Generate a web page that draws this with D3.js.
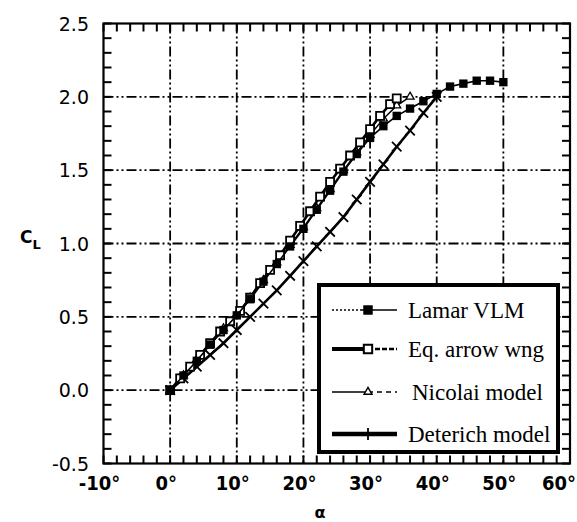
<!DOCTYPE html>
<html>
<head>
<meta charset="utf-8">
<script src="https://cdn.jsdelivr.net/npm/d3@7/dist/d3.min.js"></script>
<style>
  html, body { margin: 0; padding: 0; background: #fff; }
  svg { display: block; }
</style>
</head>
<body>
<svg id="chart" width="577" height="522"></svg>
<script>
// ---- data ----
const xTicks = [-10, 0, 10, 20, 30, 40, 50, 60];
const xTickLabels = ["-10°", "0°", "10°", "20°", "30°", "40°", "50°", "60°"];
const yTicks = [-0.5, 0.0, 0.5, 1.0, 1.5, 2.0, 2.5];
const yTickLabels = ["-0.5", "0.0", "0.5", "1.0", "1.5", "2.0", "2.5"];

const lamarAlpha = [0,2,4,6,8,10,12,14,16,18,20,22,24,26,28,30,32,34,36,38,40,42,44,46,48,50];
const lamarCL    = [0,0.10,0.20,0.31,0.41,0.51,0.62,0.74,0.86,0.98,1.10,1.23,1.36,1.49,1.61,1.72,1.80,1.87,1.92,1.97,2.02,2.07,2.09,2.11,2.11,2.10];

const eqAlpha = [0,1.5,3,4.5,6,7.5,9,10.5,12,13.5,15,16.5,18,19.5,21,22.5,24,25.5,27,28.5,30,31.5,33,34];
const eqCL    = [0,0.08,0.16,0.24,0.32,0.40,0.47,0.54,0.63,0.73,0.82,0.92,1.02,1.12,1.22,1.32,1.42,1.51,1.60,1.69,1.78,1.87,1.95,1.99];

const nicolaiAlpha = [0,2,4,6,8,10,12,14,16,18,20,22,24,26,28,30,32,34,36];
const nicolaiCL    = [0,0.10,0.21,0.31,0.42,0.52,0.63,0.75,0.87,0.99,1.11,1.24,1.37,1.50,1.62,1.74,1.85,1.94,2.00];

const deterichAlpha = [0,2,4,6,8,10,12,14,16,18,20,22,24,26,28,30,32,34,36,38,40];
const deterichCL    = [0,0.08,0.16,0.24,0.32,0.41,0.50,0.59,0.68,0.78,0.88,0.98,1.08,1.18,1.30,1.42,1.54,1.66,1.77,1.89,2.00];

const seriesNames = ["Lamar VLM", "Eq. arrow wng", "Nicolai model", "Deterich model"];

// ---- layout ----
const svg = d3.select("#chart");
const x = d3.scaleLinear().domain([-10, 60]).range([103.5, 570]);
const y = d3.scaleLinear().domain([-0.5, 2.5]).range([463.5, 23.5]);
const [x0, x1] = x.range();
const [y0, y1] = y.range();

// gridlines
const grid = svg.append("g").attr("stroke", "#000").attr("stroke-width", 1.8)
  .attr("stroke-dasharray", "10,3,2,3,2,3").attr("fill", "none");
xTicks.slice(1, -1).forEach(t => {
  grid.append("line").attr("x1", x(t)).attr("x2", x(t)).attr("y1", y1).attr("y2", y0);
});
yTicks.slice(1, -1).forEach(t => {
  grid.append("line").attr("x1", x0).attr("x2", x1).attr("y1", y(t)).attr("y2", y(t));
});

// minor ticks inside on all four sides
const TL = 8;
const tk = svg.append("g");
const minorX = d3.range(0, 36).map(i => -10 + 2 * i);
const minorY = d3.range(0, 31).map(i => -0.5 + 0.1 * i);
minorX.forEach(t => {
  tk.append("line").attr("x1", x(t)).attr("x2", x(t)).attr("y1", y0).attr("y2", y0 - TL)
    .attr("stroke", "#000").attr("stroke-width", 2);
  tk.append("line").attr("x1", x(t)).attr("x2", x(t)).attr("y1", y1).attr("y2", y1 + TL)
    .attr("stroke", "#000").attr("stroke-width", 2);
});
minorY.forEach(t => {
  tk.append("line").attr("x1", x0).attr("x2", x0 + TL).attr("y1", y(t)).attr("y2", y(t))
    .attr("stroke", "#000").attr("stroke-width", 2);
  tk.append("line").attr("x1", x1).attr("x2", x1 - TL).attr("y1", y(t)).attr("y2", y(t))
    .attr("stroke", "#000").attr("stroke-width", 2);
});

// frame
svg.append("rect").attr("x", x0).attr("y", y1).attr("width", x1 - x0).attr("height", y0 - y1)
  .attr("fill", "none").attr("stroke", "#000").attr("stroke-width", 2.2);

// tick labels
const nX = xTicks.length;
svg.append("g").selectAll("text").data(xTicks).join("text")
  .attr("x", (d, i) => i === nX - 1 ? 576 : x(d) - 4)
  .attr("y", 490)
  .attr("text-anchor", (d, i) => i === nX - 1 ? "end" : "middle")
  .attr("font-family", "'Liberation Sans Narrow', 'DejaVu Sans Condensed', sans-serif")
  .attr("font-weight", "bold")
  .attr("font-size", 20)
  .text((d, i) => xTickLabels[i]);

svg.append("g").selectAll("text").data(yTicks).join("text")
  .attr("x", 89)
  .attr("y", d => y(d) + 7)
  .attr("text-anchor", "end")
  .attr("font-family", "'DejaVu Sans', sans-serif")
  .attr("font-size", 19)
  .text((d, i) => yTickLabels[i]);

// axis titles
const yt = svg.append("text").attr("x", 20).attr("y", 243)
  .attr("font-family", "'DejaVu Sans', sans-serif").attr("font-weight", "bold");
yt.append("tspan").attr("font-size", 17).text("C");
yt.append("tspan").attr("font-size", 13).attr("dy", 6).text("L");

svg.append("text").attr("x", 320).attr("y", 518).attr("text-anchor", "middle")
  .attr("font-family", "'DejaVu Sans', sans-serif").attr("font-weight", "bold")
  .attr("font-size", 16).text("α");

// ---- series ----
const line = d3.line().x(d => x(d[0])).y(d => y(d[1]));
function pts(a, c) { return a.map((v, i) => [v, c[i]]); }

const lamar = pts(lamarAlpha, lamarCL);
const eq = pts(eqAlpha, eqCL);
const nicolai = pts(nicolaiAlpha, nicolaiCL);
const deterich = pts(deterichAlpha, deterichCL);

const tri = d3.symbol().type(d3.symbolTriangle).size(28);
const times = d3.symbol().type(d3.symbolTimes).size(60);

// Deterich
svg.append("path").datum(deterich).attr("d", line).attr("fill", "none")
  .attr("stroke", "#000").attr("stroke-width", 2.6);
svg.append("g").selectAll("path").data(deterich).join("path")
  .attr("d", times()).attr("transform", d => `translate(${x(d[0])},${y(d[1])})`)
  .attr("fill", "none").attr("stroke", "#000").attr("stroke-width", 1.8);

// Nicolai
svg.append("path").datum(nicolai).attr("d", line).attr("fill", "none")
  .attr("stroke", "#000").attr("stroke-width", 1.4);
svg.append("g").selectAll("path").data(nicolai).join("path")
  .attr("d", tri()).attr("transform", d => `translate(${x(d[0])},${y(d[1])})`)
  .attr("fill", "#fff").attr("stroke", "#000").attr("stroke-width", 1.3);

// Eq. arrow wing
svg.append("path").datum(eq).attr("d", line).attr("fill", "none")
  .attr("stroke", "#000").attr("stroke-width", 2.6);
svg.append("g").selectAll("path").data(eq).join("path")
  .attr("d", d3.symbol().type(d3.symbolSquare).size(64)()).attr("transform", d => `translate(${x(d[0])},${y(d[1])})`)
  .attr("fill", "#fff").attr("stroke", "#000").attr("stroke-width", 1.8);

// Lamar VLM
svg.append("path").datum(lamar).attr("d", line).attr("fill", "none")
  .attr("stroke", "#000").attr("stroke-width", 1.6);
svg.append("g").selectAll("path").data(lamar).join("path")
  .attr("d", d3.symbol().type(d3.symbolSquare).size(70)()).attr("transform", d => `translate(${x(d[0])},${y(d[1])})`)
  .attr("fill", "#000");

// ---- legend ----
const lg = svg.append("g");
lg.append("rect").attr("x", 319).attr("y", 285).attr("width", 239).attr("height", 167)
  .attr("fill", "#fff").attr("stroke", "#000").attr("stroke-width", 4);

const rowY = [310, 349, 392, 434];
const textX = [408, 408, 412, 408];
const lx0 = 332, lx1 = 397, mx = 368;

// Lamar row
lg.append("line").attr("x1", lx0).attr("x2", mx - 8).attr("y1", rowY[0]).attr("y2", rowY[0])
  .attr("stroke", "#000").attr("stroke-width", 1.5).attr("stroke-dasharray", "2,2");
lg.append("line").attr("x1", mx - 8).attr("x2", lx1).attr("y1", rowY[0]).attr("y2", rowY[0])
  .attr("stroke", "#000").attr("stroke-width", 1.6);
lg.append("path").attr("d", d3.symbol().type(d3.symbolSquare).size(90)()).attr("transform", `translate(${mx},${rowY[0]})`).attr("fill", "#000");

// Eq row
lg.append("line").attr("x1", lx0).attr("x2", mx).attr("y1", rowY[1]).attr("y2", rowY[1])
  .attr("stroke", "#000").attr("stroke-width", 4);
lg.append("line").attr("x1", mx).attr("x2", lx1).attr("y1", rowY[1]).attr("y2", rowY[1])
  .attr("stroke", "#000").attr("stroke-width", 2.5).attr("stroke-dasharray", "5,2");
lg.append("path").attr("d", d3.symbol().type(d3.symbolSquare).size(70)()).attr("transform", `translate(${mx},${rowY[1]})`)
  .attr("fill", "#fff").attr("stroke", "#000").attr("stroke-width", 2);

// Nicolai row
lg.append("line").attr("x1", lx0).attr("x2", mx).attr("y1", rowY[2]).attr("y2", rowY[2])
  .attr("stroke", "#000").attr("stroke-width", 1.5);
lg.append("line").attr("x1", mx).attr("x2", lx1).attr("y1", rowY[2]).attr("y2", rowY[2])
  .attr("stroke", "#000").attr("stroke-width", 1.5).attr("stroke-dasharray", "5,4");
lg.append("path").attr("d", tri()).attr("transform", `translate(${mx},${rowY[2]})`)
  .attr("fill", "#fff").attr("stroke", "#000").attr("stroke-width", 1.4);

// Deterich row
lg.append("line").attr("x1", lx0).attr("x2", lx1).attr("y1", rowY[3]).attr("y2", rowY[3])
  .attr("stroke", "#000").attr("stroke-width", 4.5);
lg.append("line").attr("x1", mx).attr("x2", mx).attr("y1", rowY[3] - 6).attr("y2", rowY[3] + 6)
  .attr("stroke", "#000").attr("stroke-width", 1.8);

lg.selectAll("text.lab").data(seriesNames).join("text")
  .attr("class", "lab")
  .attr("x", (d, i) => textX[i])
  .attr("y", (d, i) => rowY[i] + 8)
  .attr("font-family", "'Liberation Serif', 'Times New Roman', serif")
  .attr("font-size", 23)
  .text(d => d);

lg.append("line").attr("x1", 558).attr("x2", 558).attr("y1", 285).attr("y2", 452)
  .attr("stroke", "#000").attr("stroke-width", 4);
</script>
</body>
</html>
